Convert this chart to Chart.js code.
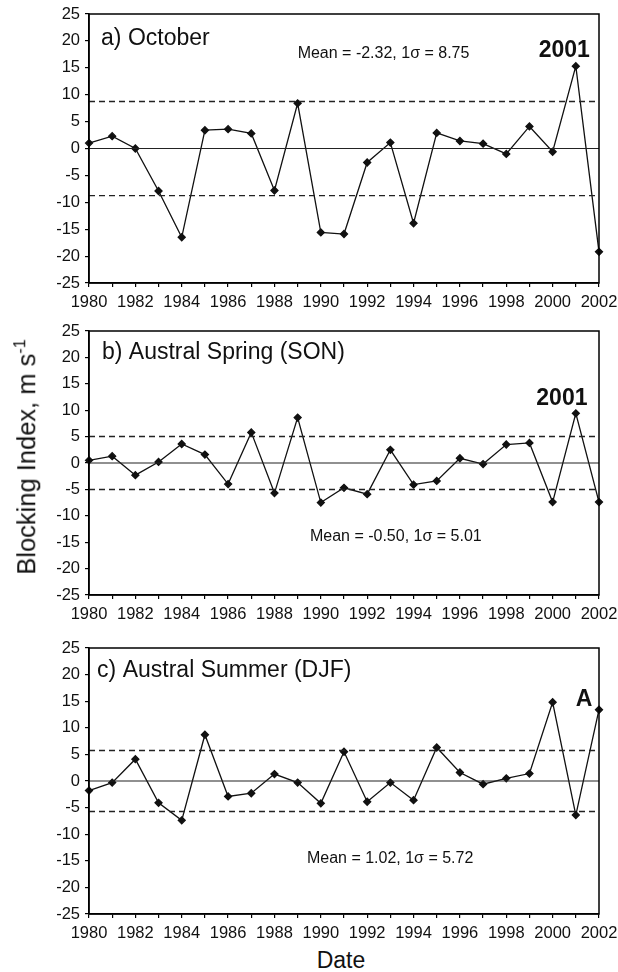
<!DOCTYPE html>
<html>
<head>
<meta charset="utf-8">
<script src="https://cdn.jsdelivr.net/npm/chart.js@4.4.1/dist/chart.umd.min.js"></script>
<style>
  body { margin: 0; background: #fff; width: 618px; height: 972px; position: relative; overflow: hidden;
         font-family: "Liberation Sans", Arial, sans-serif; color: #111; }
  .panel { position: absolute; left: 0; }
  #ytitle { position: absolute; left: 26px; top: 457px; transform: translate(-50%, -50%) rotate(-90deg);
            font-size: 25.5px; white-space: nowrap; }
  #ytitle sup { font-size: 16px; }
  #xtitle { position: absolute; left: 341px; top: 960px; transform: translate(-50%, -50%); font-size: 23px; }
</style>
</head>
<body>
<canvas id="octChart" class="panel" width="618" height="313" style="top:0px"></canvas>
<canvas id="sonChart" class="panel" width="618" height="308" style="top:317px"></canvas>
<canvas id="djfChart" class="panel" width="618" height="310" style="top:634px"></canvas>
<div id="ytitle">Blocking Index, m s<sup>-1</sup></div>
<div id="xtitle">Date</div>

<script>
// blocking index, one value per year
const years = ['1980', '1981', '1982', '1983', '1984', '1985', '1986', '1987', '1988', '1989', '1990', '1991',
               '1992', '1993', '1994', '1995', '1996', '1997', '1998', '1999', '2000', '2001', '2002'];

const october = [1.0, 2.3, 0.0, -7.9, -16.5, 3.4, 3.6, 2.8, -7.8, 8.4, -15.6, -15.9,
                 -2.6, 1.1, -13.9, 2.9, 1.4, 0.9, -1.0, 4.1, -0.6, 15.3, -19.2];
const spring = [0.5, 1.3, -2.3, 0.2, 3.6, 1.6, -4.0, 5.8, -5.7, 8.6, -7.5, -4.7,
                -5.9, 2.5, -4.1, -3.4, 0.9, -0.2, 3.5, 3.8, -7.4, 9.4, -7.4];
const summer = [-1.8, -0.3, 4.1, -4.1, -7.4, 8.7, -2.9, -2.3, 1.3, -0.3, -4.2, 5.5,
                -3.9, -0.3, -3.6, 6.3, 1.6, -0.6, 0.5, 1.4, 14.8, -6.4, 13.4];

const sigmas = [8.75, 5.01, 5.72];
const yTicks = [-25, 25, 5];

const ink = '#111';
const tickFont = { family: 'Liberation Sans, Arial, sans-serif', size: 16.5 };

// frame round the plot area plus the text notes
const framePlugin = {
  id: 'frame',
  afterDraw(chart) {
    const { ctx, chartArea: a, scales } = chart;
    ctx.save();
    ctx.strokeStyle = '#000';
    ctx.lineWidth = 1.5;
    ctx.strokeRect(a.left, a.top, a.right - a.left, a.bottom - a.top);
    ctx.fillStyle = ink;
    ctx.textBaseline = 'middle';
    (chart.$notes || []).forEach(n => {
      ctx.font = (n.bold ? 'bold ' : '') + n.size + 'px "Liberation Sans", Arial, sans-serif';
      ctx.textAlign = n.align || 'left';
      ctx.fillText(n.text, scales.x.getPixelForValue(n.x), scales.y.getPixelForValue(n.y));
    });
    ctx.restore();
  }
};

function makePanel(id, values, sigma, notes) {
  const flat = v => years.map(() => v);
  const chart = new Chart(document.getElementById(id), {
    type: 'line',
    data: {
      labels: years,
      datasets: [
        { data: flat(0), borderColor: '#222', borderWidth: 1.2, pointRadius: 0 },
        { data: flat(sigma), borderColor: '#222', borderWidth: 1.4, borderDash: [6, 4], pointRadius: 0 },
        { data: flat(-sigma), borderColor: '#222', borderWidth: 1.4, borderDash: [6, 4], pointRadius: 0 },
        { data: values, borderColor: ink, borderWidth: 1.3, tension: 0,
          pointStyle: 'rectRot', pointRadius: 3.5, pointBackgroundColor: ink, pointBorderColor: ink }
      ]
    },
    options: {
      responsive: false,
      animation: false,
      layout: { padding: { top: 14, right: 19, left: 0, bottom: 0 } },
      plugins: { legend: { display: false }, tooltip: { enabled: false } },
      scales: {
        x: {
          afterFit(s) { s.height = 30; s.paddingLeft = 0; s.paddingRight = 0; },
          grid: { drawOnChartArea: false, tickLength: 4, color: '#000', lineWidth: 1.2 },
          border: { color: '#000', width: 1.5 },
          ticks: { autoSkip: false, maxRotation: 0, color: ink, font: tickFont, padding: 6,
                   callback: (v, i) => (i % 2 === 0 ? years[i] : '') }
        },
        y: {
          min: yTicks[0], max: yTicks[1],
          afterFit(s) { s.width = 89; s.paddingTop = 0; s.paddingBottom = 0; },
          grid: { drawOnChartArea: false, tickLength: 4, color: '#000', lineWidth: 1.2 },
          border: { color: '#000', width: 1.5 },
          ticks: { stepSize: yTicks[2], color: ink, font: tickFont, padding: 5 }
        }
      }
    },
    plugins: [framePlugin]
  });
  chart.$notes = notes;
  chart.draw();
}

makePanel('octChart', october, sigmas[0], [
  { text: 'a) October', x: 0.52, y: 20.5, size: 23 },
  { text: 'Mean = -2.32, 1\u03c3 = 8.75', x: 9.0, y: 17.7, size: 16 },
  { text: '2001', x: 20.5, y: 18.1, size: 23, bold: true, align: 'center' }
]);
makePanel('sonChart', spring, sigmas[1], [
  { text: 'b) Austral Spring (SON)', x: 0.56, y: 20.9, size: 23 },
  { text: 'Mean = -0.50, 1\u03c3 = 5.01', x: 9.53, y: -14.0, size: 16 },
  { text: '2001', x: 20.4, y: 12.2, size: 23, bold: true, align: 'center' }
]);
makePanel('djfChart', summer, sigmas[2], [
  { text: 'c) Austral Summer (DJF)', x: 0.35, y: 20.7, size: 23 },
  { text: 'Mean = 1.02, 1\u03c3 = 5.72', x: 9.4, y: -14.5, size: 16 },
  { text: 'A', x: 21.35, y: 15.3, size: 23, bold: true, align: 'center' }
]);
</script>
</body>
</html>
